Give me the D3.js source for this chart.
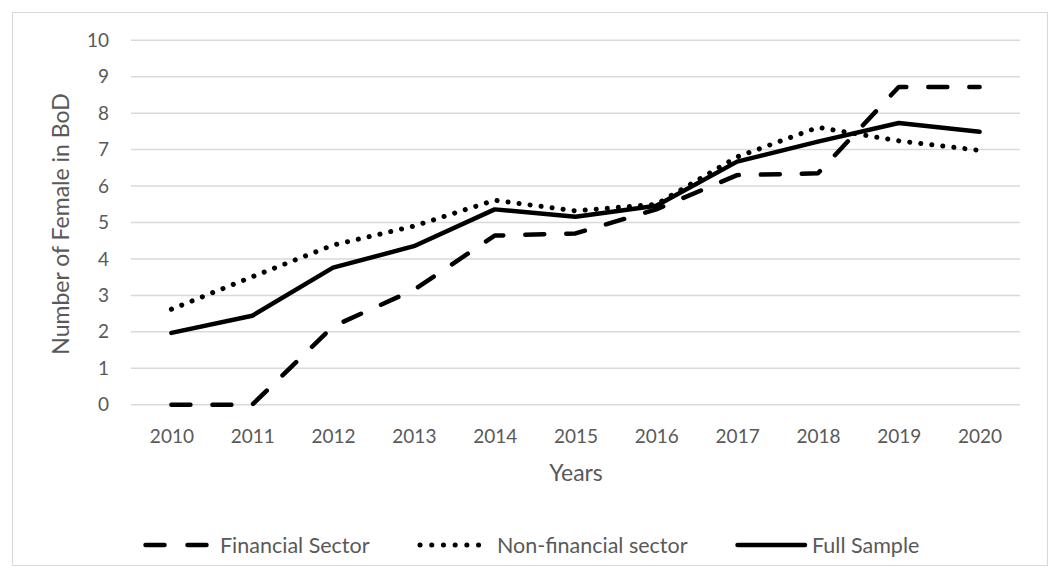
<!DOCTYPE html>
<html>
<head>
<meta charset="utf-8">
<script src="https://cdn.jsdelivr.net/npm/d3@7"></script>
<style>
  body { margin: 0; background: #fff; }
  text { font-family: Lato, "Noto Sans", sans-serif; fill: #595959; }
</style>
</head>
<body>
<div id="chart"></div>
<script>
// Chart data
const years = ["2010", "2011", "2012", "2013", "2014", "2015", "2016", "2017", "2018", "2019", "2020"];
const financial = [0, 0, 2.15, 3.15, 4.64, 4.7, 5.36, 6.3, 6.35, 8.72, 8.72];
const nonFinancial = [2.62, 3.51, 4.38, 4.9, 5.61, 5.32, 5.5, 6.8, 7.61, 7.24, 6.98];
const fullSample = [1.97, 2.44, 3.76, 4.35, 5.36, 5.16, 5.46, 6.67, 7.22, 7.73, 7.49];
const yTicks = [0, 1, 2, 3, 4, 5, 6, 7, 8, 9, 10];

const width = 1053;
const height = 576;

const svg = d3.select("#chart").append("svg")
    .attr("width", width)
    .attr("height", height);

// Outer chart border
svg.append("rect")
    .attr("x", 12.5).attr("y", 12.5)
    .attr("width", 1035).attr("height", 553)
    .attr("fill", "none")
    .attr("stroke", "#d9d9d9");

const x = d3.scalePoint()
    .domain(years)
    .range([131, 1020])
    .padding(0.5);

const y = d3.scaleLinear()
    .domain([0, 10])
    .range([404.7, 40.3]);

// Gridlines
svg.selectAll(".grid")
    .data(yTicks)
    .join("line")
    .attr("class", "grid")
    .attr("x1", 131).attr("x2", 1020)
    .attr("y1", d => y(d)).attr("y2", d => y(d))
    .attr("stroke", "#d9d9d9")
    .attr("stroke-width", 1.5);

// Y axis labels
const yAxis = svg.append("g")
    .attr("transform", "translate(109,0)")
    .call(d3.axisLeft(y).tickValues(yTicks).tickSize(0).tickPadding(0));
yAxis.select(".domain").remove();
yAxis.selectAll("text")
    .attr("font-size", 19)
    .style("font-family", "Lato, 'Noto Sans', sans-serif")
    .attr("fill", "#595959");

// X axis labels
const xAxis = svg.append("g")
    .attr("transform", "translate(0,0)")
    .call(d3.axisBottom(x).tickSize(0).tickPadding(0));
xAxis.select(".domain").remove();
xAxis.selectAll("text")
    .attr("y", 443)
    .attr("dy", 0)
    .attr("font-size", 19)
    .style("font-family", "Lato, 'Noto Sans', sans-serif")
    .attr("fill", "#595959");

// Axis titles
svg.append("text")
    .attr("transform", "translate(69,224) rotate(-90)")
    .attr("text-anchor", "middle")
    .attr("font-size", 23)
    .text("Number of Female in BoD");

svg.append("text")
    .attr("x", 576).attr("y", 481)
    .attr("text-anchor", "middle")
    .attr("font-size", 23)
    .text("Years");

// Series
const series = [
    { name: "Financial Sector", values: financial, dash: "19,22", width: 4.5 },
    { name: "Non-financial sector", values: nonFinancial, dash: "0.1,11", width: 5 },
    { name: "Full Sample", values: fullSample, dash: null, width: 4.5 }
];

const line = d3.line()
    .x((d, i) => x(years[i]))
    .y(d => y(d));

svg.selectAll(".series")
    .data(series)
    .join("path")
    .attr("class", "series")
    .attr("d", d => line(d.values))
    .attr("fill", "none")
    .attr("stroke", "#000")
    .attr("stroke-width", d => d.width)
    .attr("stroke-linecap", "round")
    .attr("stroke-linejoin", "round")
    .attr("stroke-dasharray", d => d.dash);

// Legend
const legendItems = [
    { s: series[0], x1: 145.5, x2: 206.5, tx: 220, dash: "19,23" },
    { s: series[1], x1: 420, x2: 480, tx: 497, dash: "0.1,11.6" },
    { s: series[2], x1: 737.5, x2: 805, tx: 812, dash: null }
];
const legendY = 545;

const legend = svg.selectAll(".legend")
    .data(legendItems)
    .join("g")
    .attr("class", "legend");

legend.append("line")
    .attr("x1", d => d.x1).attr("x2", d => d.x2)
    .attr("y1", legendY).attr("y2", legendY)
    .attr("stroke", "#000")
    .attr("stroke-width", d => d.s.width)
    .attr("stroke-linecap", "round")
    .attr("stroke-dasharray", d => d.dash);

legend.append("text")
    .attr("x", d => d.tx)
    .attr("y", legendY)
    .attr("dy", "0.36em")
    .attr("font-size", 21.5)
    .text(d => d.s.name);
</script>
</body>
</html>
